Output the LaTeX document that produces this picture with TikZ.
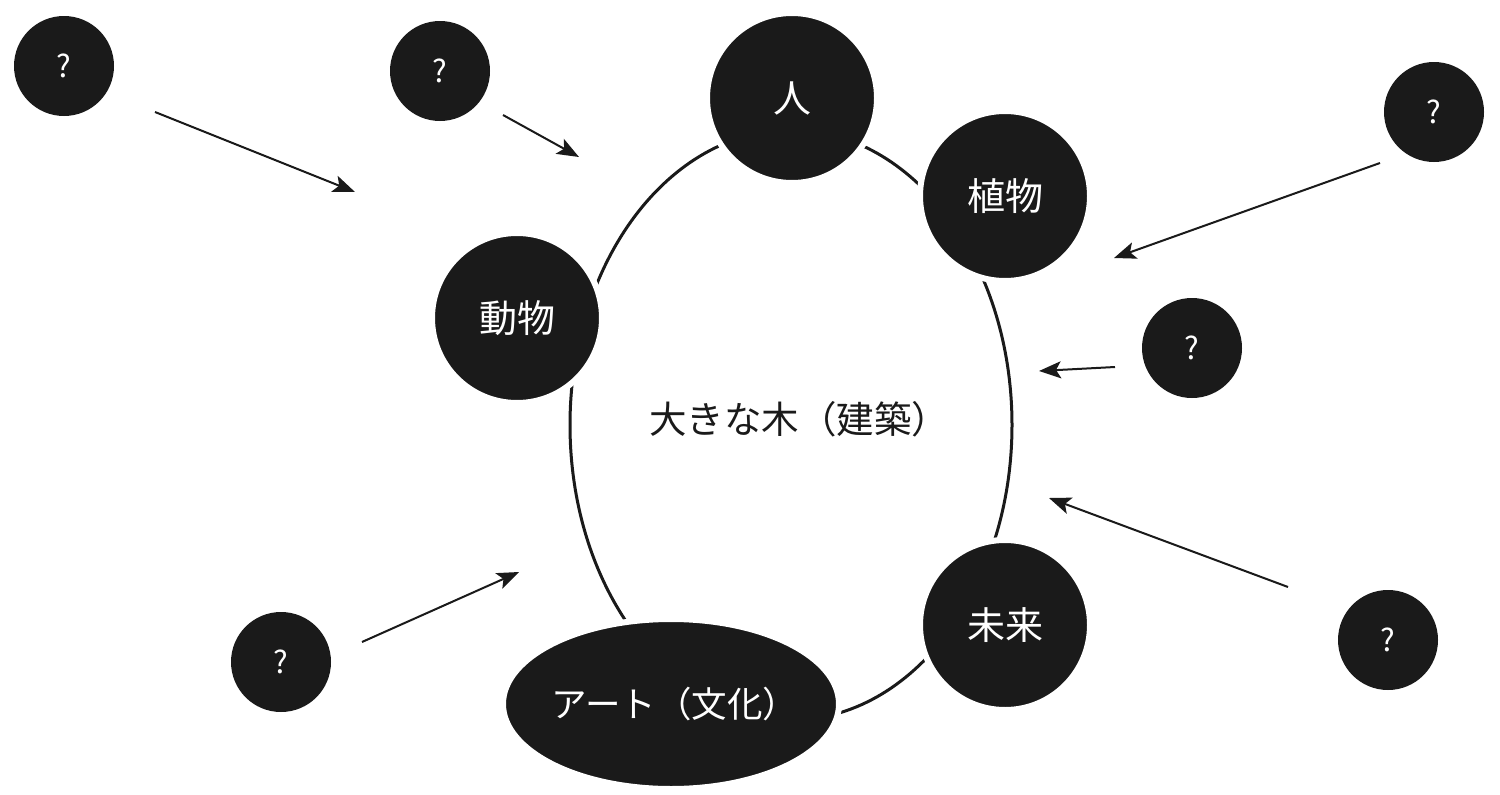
\documentclass[tikz,border=0pt]{standalone}
\usepackage{fontspec}
\setmainfont{Noto Sans CJK JP}
\usetikzlibrary{arrows.meta,shapes.geometric}
\definecolor{ink}{HTML}{1A1A1A}
\begin{document}
\begin{tikzpicture}[x=1pt,y=-1pt,
  blob/.style={circle,fill=ink,draw=white,line width=6pt,minimum size=170pt,inner sep=0pt,text=white,font=\fontsize{38}{38}\selectfont},
  qbox/.style={circle,fill=ink,minimum size=100pt,inner sep=0pt,text=white,font=\fontsize{31}{31}\selectfont},
  arr/.style={-{Stealth[length=22pt,width=17pt,inset=5pt]},line width=2pt,draw=ink}]
\useasboundingbox[fill=white] (0,0) rectangle (1500,795);
% big oval
\node[draw=ink,line width=3pt,ellipse,minimum width=442pt,minimum height=590pt,inner sep=0pt] (tree) at (791,425) {};
\node[font=\fontsize{37.5}{37.5}\selectfont,text=ink] (treelabel) at (799,419) {大きな木（建築）};
% named nodes on the oval
\node[blob] (hito) at (792,98) {人};
\node[blob] (shoku) at (1005,196) {植物};
\node[blob] (dou) at (517,318) {動物};
\node[blob] (mirai) at (1005,625) {未来};
\node[ellipse,fill=ink,draw=white,line width=6pt,minimum width=336pt,minimum height=170pt,inner sep=0pt] (art) at (671,704) {};
\node[text=white,font=\fontsize{35.5}{35.5}\selectfont] (artlabel) at (675,704) {アート（文化）};
% question circles
\node[qbox] (q1) at (64,66) {?};
\node[qbox] (q2) at (440,71) {?};
\node[qbox] (q3) at (1434,112) {?};
\node[qbox] (q4) at (1192,348) {?};
\node[qbox] (q5) at (1388,640) {?};
\node[qbox] (q6) at (281,662) {?};
% arrows
\coordinate (a1s) at (155,112); \coordinate (a1e) at (355,192);
\coordinate (a2s) at (503,115); \coordinate (a2e) at (579,157);
\coordinate (a3s) at (1380,163); \coordinate (a3e) at (1114,258);
\coordinate (a4s) at (1115,367); \coordinate (a4e) at (1039,371);
\coordinate (a5s) at (1288,587); \coordinate (a5e) at (1049,498);
\coordinate (a6s) at (362,642); \coordinate (a6e) at (519,572);
\draw[arr] (a1s) -- (a1e);
\draw[arr] (a2s) -- (a2e);
\draw[arr] (a3s) -- (a3e);
\draw[arr] (a4s) -- (a4e);
\draw[arr] (a5s) -- (a5e);
\draw[arr] (a6s) -- (a6e);
\end{tikzpicture}
\end{document}
